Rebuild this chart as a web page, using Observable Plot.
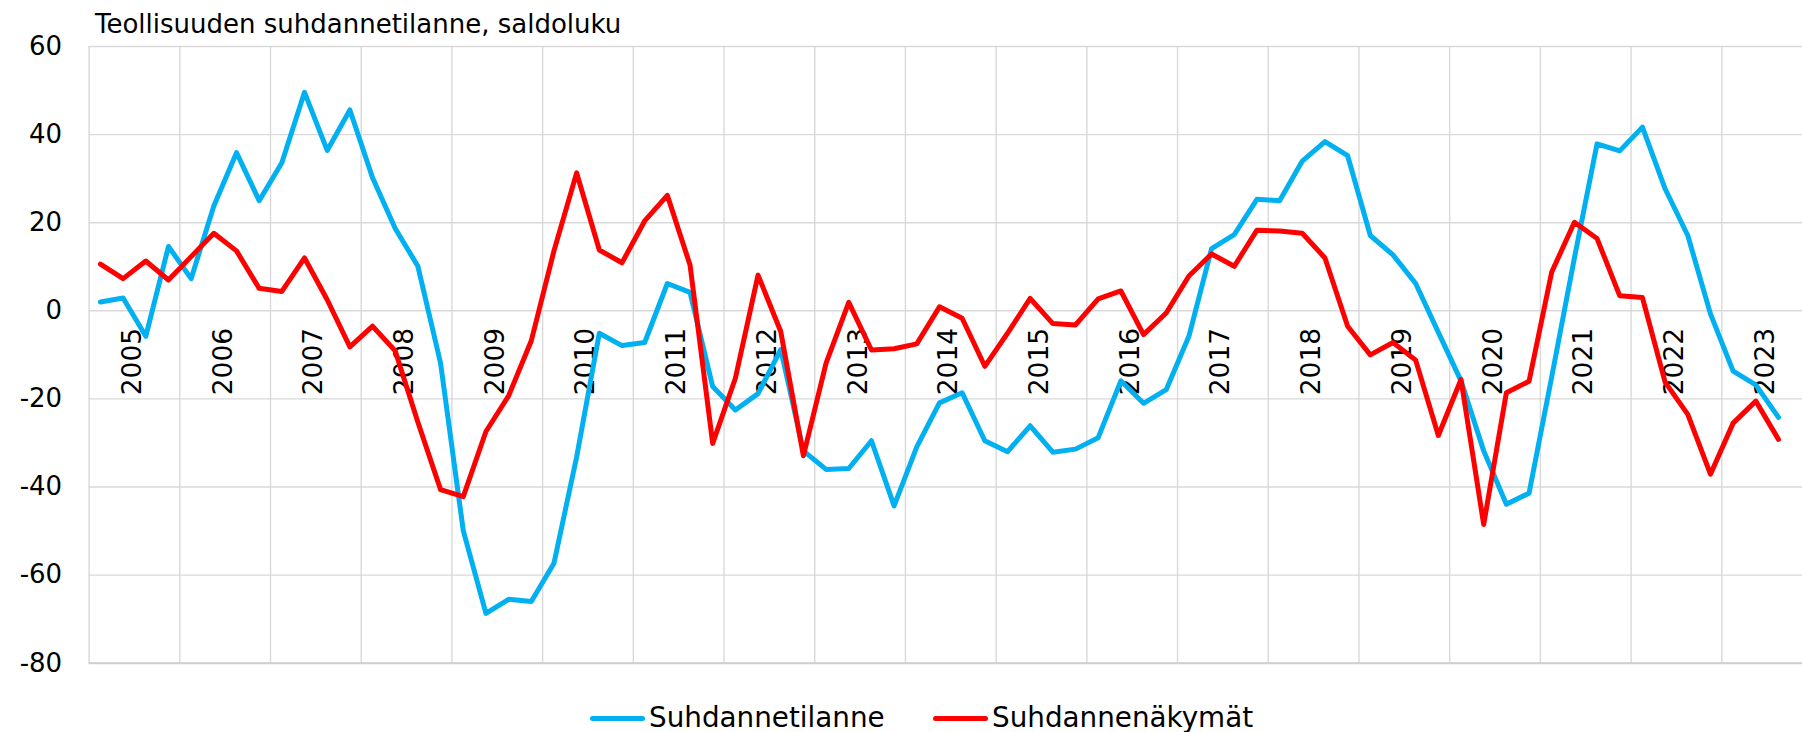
<!DOCTYPE html>
<html>
<head>
<meta charset="utf-8">
<script src="https://cdn.jsdelivr.net/npm/d3@7"></script>
<script src="https://cdn.jsdelivr.net/npm/@observablehq/plot@0.6"></script>
<style>
html, body { margin: 0; padding: 0; background: #fff; overflow: hidden; }
#wrap { position: relative; width: 1802px; height: 732px; font-family: "DejaVu Sans", Verdana, sans-serif; color: #000; }
#chart { position: absolute; left: 0; top: 0; }
#title { position: absolute; left: 95px; top: 11px; font-size: 26px; line-height: 26px; white-space: nowrap; }
.leg { position: absolute; top: 703px; height: 30px; display: flex; align-items: center; font-size: 27.8px; line-height: 30px; white-space: nowrap; }
.sw { width: 55px; height: 5px; margin-right: 4px; border-radius: 2.5px; }
</style>
</head>
<body>
<div id="wrap">
  <div id="chart"></div>
  <div id="title">Teollisuuden suhdannetilanne, saldoluku</div>
  <div id="legend"></div>
</div>
<script>
// ---- data ----
const years = [2005, 2006, 2007, 2008, 2009, 2010, 2011, 2012, 2013, 2014,
               2015, 2016, 2017, 2018, 2019, 2020, 2021, 2022, 2023];
const quarters = ["Q1", "Q2", "Q3", "Q4"];
const seriesNames = ["Suhdannetilanne", "Suhdannenäkymät"];
const seriesColors = ["#00B0F0", "#FF0000"];
const yTicks = [-80, -60, -40, -20, 0, 20, 40, 60];

// Suhdannetilanne (quarterly, 2005 Q1 – 2023 Q3)
const suhdannetilanne = [
  2.0, 2.9, -5.8, 14.6,
  7.3, 23.8, 35.9, 25.0,
  33.6, 49.6, 36.4, 45.6,
  30.2, 18.7, 10.1, -11.9,
  -49.9, -68.7, -65.5, -66.0,
  -57.3, -33.2, -5.1, -7.9,
  -7.2, 6.2, 4.2, -17.2,
  -22.5, -18.8, -8.8, -31.8,
  -36.0, -35.8, -29.5, -44.3,
  -30.9, -20.9, -18.6, -29.5,
  -32.0, -26.1, -32.1, -31.4,
  -28.8, -15.9, -21.0, -17.9,
  -5.8, 14.1, 17.3, 25.3,
  25.0, 34.0, 38.4, 35.2,
  17.1, 12.7, 6.2, -4.9,
  -15.9, -31.8, -43.9, -41.4,
  -15.0, 12.0, 37.9, 36.3,
  41.7, 27.7, 17.1, -0.7,
  -13.7, -16.8, -24.2
];

// Suhdannenäkymät (quarterly, 2005 Q1 – 2023 Q3)
const suhdannenakymat = [
  10.6, 7.3, 11.3, 7.0,
  12.3, 17.6, 13.6, 5.1,
  4.4, 12.0, 2.5, -8.2,
  -3.5, -9.1, -25.3, -40.6,
  -42.2, -27.4, -19.3, -6.8,
  13.6, 31.3, 13.8, 10.9,
  20.4, 26.2, 10.4, -30.1,
  -15.3, 8.1, -4.7, -32.9,
  -11.9, 1.9, -8.9, -8.6,
  -7.5, 0.9, -1.7, -12.6,
  -5.1, 2.8, -2.9, -3.2,
  2.7, 4.5, -5.4, -0.5,
  7.9, 12.9, 10.1, 18.3,
  18.1, 17.6, 12.0, -3.5,
  -10.0, -7.2, -11.2, -28.3,
  -15.6, -48.5, -18.6, -16.0,
  8.8, 20.1, 16.4, 3.4,
  3.0, -16.2, -23.5, -37.1,
  -25.5, -20.5, -29.2
];

// ---- build table ----
const periods = years.flatMap(y => quarters.map(q => ({year: y, quarter: q})));
const nSlots = periods.length; // 76 quarter slots on the category axis
const rows = [];
[suhdannetilanne, suhdannenakymat].forEach((vals, s) => {
  vals.forEach((v, i) => {
    rows.push({t: i + 0.5, value: v, series: seriesNames[s], period: periods[i]});
  });
});
const yearStarts = years.map(y => (y - years[0]) * quarters.length);
const yearMids = years.map(y => ({year: y, t: (y - years[0]) * quarters.length + quarters.length / 2}));

const font = '"DejaVu Sans", Verdana, sans-serif';
const gridColor = "#D9D9D9";

const chart = Plot.plot({
  width: 1802,
  height: 732,
  marginLeft: 88.6,
  marginRight: -10,
  marginTop: 46,
  marginBottom: 69.3,
  style: {fontFamily: font, fontSize: "26px", background: "transparent", color: "#000"},
  x: {type: "linear", domain: [0, nSlots], axis: null},
  y: {domain: [-80, 60], ticks: yTicks, tickSize: 0, tickPadding: 27, tickFormat: d => String(d), label: null},
  color: {domain: seriesNames, range: seriesColors},
  marks: [
    Plot.ruleY(yTicks, {stroke: gridColor, strokeWidth: 1.4}),
    Plot.ruleX(yearStarts, {stroke: gridColor, strokeWidth: 1.4}),
    Plot.ruleY([-80], {stroke: "#CFCFCF", strokeWidth: 2}),
    Plot.text(yearMids, {
      x: "t", y: () => 0, text: d => String(d.year),
      rotate: -90, textAnchor: "end", dy: 17, dx: -2,
      fontSize: 26.5, fill: "#000"
    }),
    Plot.line(rows, {
      x: "t", y: "value", z: "series", stroke: "series",
      strokeWidth: 5, strokeLinejoin: "round", strokeLinecap: "round"
    })
  ]
});
document.getElementById("chart").appendChild(chart);

// ---- legend ----
const legend = document.getElementById("legend");
const legendLeft = [590, 933];
seriesNames.forEach((name, i) => {
  const item = document.createElement("div");
  item.className = "leg";
  item.style.left = legendLeft[i] + "px";
  const sw = document.createElement("div");
  sw.className = "sw";
  sw.style.background = seriesColors[i];
  const label = document.createElement("span");
  label.textContent = name;
  item.appendChild(sw);
  item.appendChild(label);
  legend.appendChild(item);
});
</script>
</body>
</html>
